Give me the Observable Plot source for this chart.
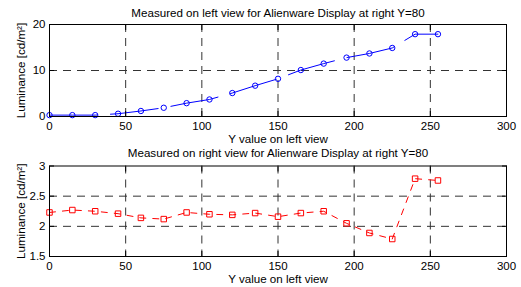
<!DOCTYPE html>
<html><head><meta charset="utf-8">
<script src="https://cdn.jsdelivr.net/npm/d3@7"></script>
<script src="https://cdn.jsdelivr.net/npm/@observablehq/plot@0.6"></script>
<style>body{margin:0;background:#fff} #c svg{display:block;overflow:visible}</style>
</head><body><div id="c"></div>
<script>
const xValues = [0,15,30,45,60,75,90,105,120,135,150,165,180,195,210,225,240,255];
const leftLuminance = [0.3,0.3,0.3,0.6,1.2,1.9,2.9,3.7,5.1,6.7,8.2,10.1,11.5,12.8,13.7,14.9,17.9,17.9];
const rightLuminance = [2.23,2.27,2.25,2.21,2.14,2.12,2.23,2.20,2.19,2.22,2.16,2.22,2.25,2.05,1.89,1.79,2.79,2.76];
const xTicks = [0,50,100,150,200,250,300];
const xGrid = [50,100,150,200,250];
const topYTicks = [0,10,20];
const topYGrid = [10];
const bottomYTicks = [1.5,2,2.5,3];
const bottomYGrid = [2,2.5];
const topTitle = "Measured on left view for Alienware Display at right Y=80";
const bottomTitle = "Measured on right view for Alienware Display at right Y=80";
const xLabel = "Y value on left view";
const yLabel = "Luminance [cd/m²]";

const FONT = "'Liberation Sans', Arial, Helvetica, sans-serif";

function panel(o) {
  const data = xValues.map((x, i) => ({x, y: o.values[i]}));
  return Plot.plot({
    width: 521, height: o.height,
    marginLeft: 49, marginRight: 15, marginTop: o.marginTop, marginBottom: o.marginBottom,
    style: {fontFamily: FONT, fontSize: "11.5px", color: "#000", background: "#fff", overflow: "visible"},
    x: {domain: [0, 300]},
    y: {domain: o.yDomain},
    marks: [
      Plot.ruleX(xGrid, {x: d => d, stroke: "#333", strokeWidth: 1, strokeDasharray: "8,6"}),
      Plot.ruleY(o.yGrid, {y: d => d, stroke: "#333", strokeWidth: 1, strokeDasharray: "8,6"}),
      Plot.line(data, {x: "x", y: "y", stroke: o.color, strokeWidth: 1, strokeDasharray: o.dash}),
      Plot.dot(data, {x: "x", y: "y", stroke: o.color, fill: "none", symbol: o.symbol, r: o.r, strokeWidth: 1}),
      Plot.frame({stroke: "#000", strokeWidth: 1}),
      Plot.axisX(xTicks, {anchor: "bottom", tickSize: -5, tickFormat: () => "", label: null}),
      Plot.axisX(xTicks, {anchor: "top", tickSize: -5, tickFormat: () => "", label: null}),
      Plot.axisX(xTicks, {anchor: "bottom", tickSize: 0, tickPadding: 5, tickFormat: d => String(d), label: null, fontSize: 11.5}),
      Plot.axisY(o.yTicks, {anchor: "left", tickSize: -5, tickFormat: () => "", label: null}),
      Plot.axisY(o.yTicks, {anchor: "right", tickSize: -5, tickFormat: () => "", label: null}),
      Plot.axisY(o.yTicks, {anchor: "left", tickSize: 0, tickPadding: 4, tickFormat: d => String(d), label: null, fontSize: 11.5}),
      Plot.text([o.title], {text: d => d, frameAnchor: "top", dy: o.titleDy, lineAnchor: "bottom", fontSize: 11.6}),
      Plot.text([xLabel], {text: d => d, frameAnchor: "bottom", dy: 26, lineAnchor: "bottom", fontSize: 11.6}),
      Plot.text([yLabel], {text: d => d, frameAnchor: "left", textAnchor: "middle", dx: -24.5, rotate: -90, lineAnchor: "bottom", fontSize: 11.6})
    ]
  });
}

const c = document.getElementById("c");
c.append(panel({
  values: leftLuminance, yDomain: [0, 20], yTicks: topYTicks, yGrid: topYGrid,
  title: topTitle, color: "#0000ff", symbol: "circle", r: 2.7, dash: "48,13",
  height: 145, marginTop: 24, marginBottom: 29, titleDy: -7.5
}));
c.append(panel({
  values: rightLuminance, yDomain: [1.5, 3], yTicks: bottomYTicks, yGrid: bottomYGrid,
  title: bottomTitle, color: "#ff0000", symbol: "square", r: 3.1, dash: "6,7",
  height: 142, marginTop: 20.5, marginBottom: 31, titleDy: -9.2
}));
</script></body></html>
